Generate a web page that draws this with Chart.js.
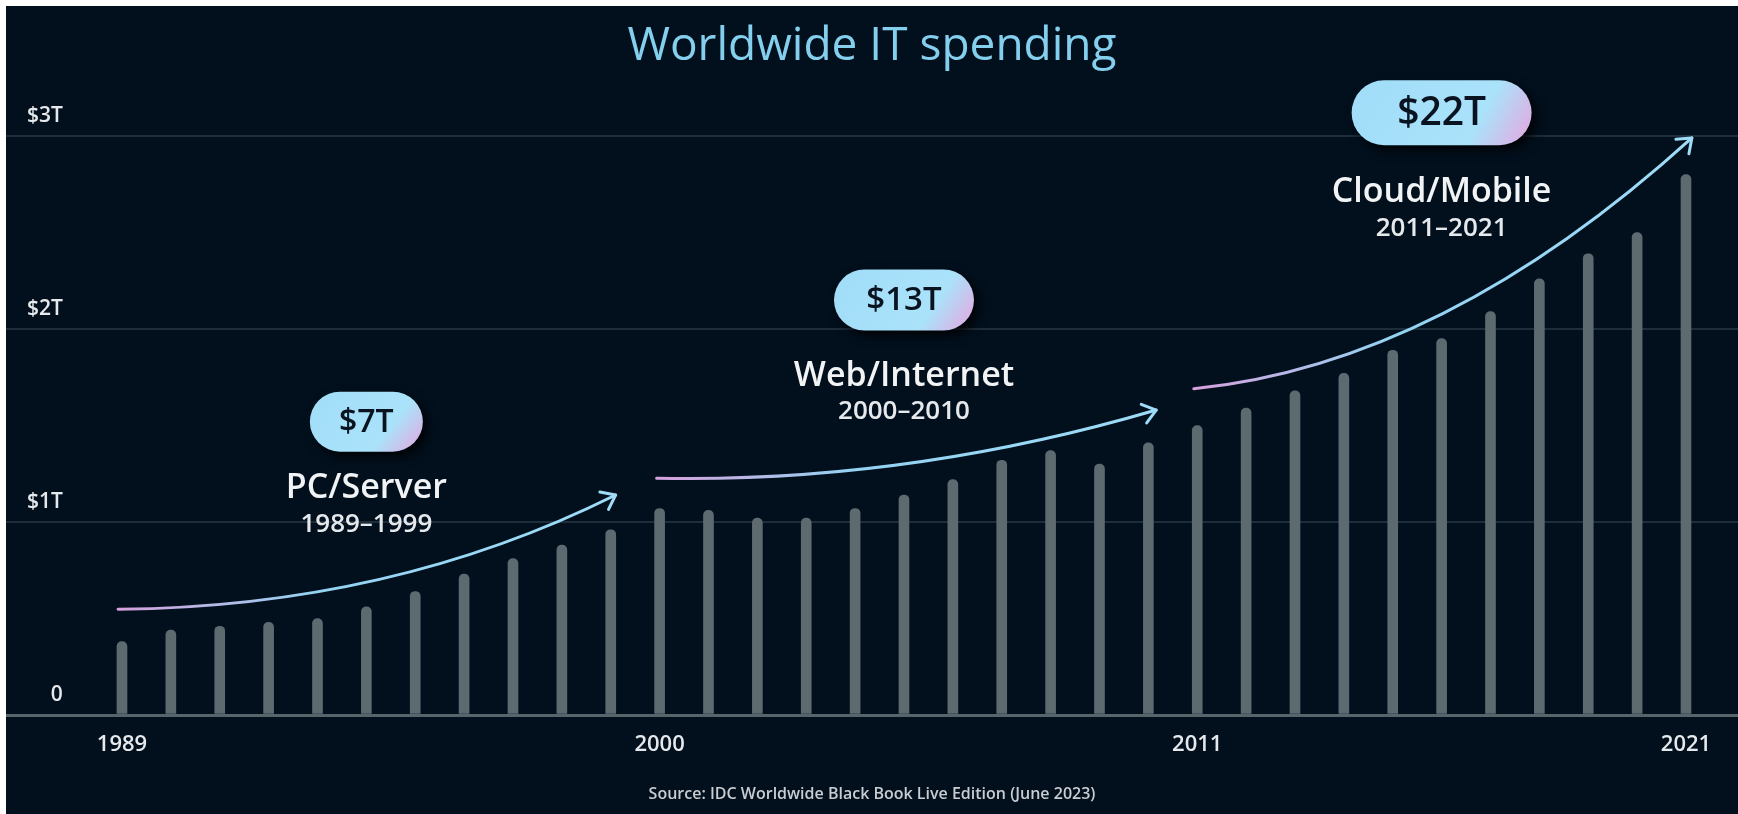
<!DOCTYPE html>
<html>
<head>
<meta charset="utf-8">
<title>Worldwide IT spending</title>
<script src="https://cdn.jsdelivr.net/npm/chart.js@4.4.1/dist/chart.umd.min.js"></script>
<style>
  html, body { margin: 0; background: #ffffff; }
  #wrap {
    position: absolute;
    left: 6px;
    top: 6px;
    width: 1732px;
    height: 808px;
    background: #02101e;
  }
</style>
</head>
<body>
<div id="wrap"><canvas id="it-spending" width="1732" height="808"></canvas></div>
<script>
// Worldwide IT spending per year, trillions of US dollars
const years = [
  1989, 1990, 1991, 1992, 1993, 1994, 1995, 1996, 1997, 1998, 1999,
  2000, 2001, 2002, 2003, 2004, 2005, 2006, 2007, 2008, 2009, 2010,
  2011, 2012, 2013, 2014, 2015, 2016, 2017, 2018, 2019, 2020, 2021,
];
const spending = [
  0.38, 0.44, 0.46, 0.48, 0.50, 0.56, 0.64, 0.73, 0.81, 0.88, 0.96,
  1.07, 1.06, 1.02, 1.02, 1.07, 1.14, 1.22, 1.32, 1.37, 1.30, 1.41,
  1.50, 1.59, 1.68, 1.77, 1.89, 1.95, 2.09, 2.26, 2.39, 2.50, 2.80,
];
const yTicks = [0, 1, 2, 3];
const xTickYears = [1989, 2000, 2011, 2021];

// Computing eras
const eraNames = ["PC/Server", "Web/Internet", "Cloud/Mobile"];
const eraStart = [1989, 2000, 2011];
const eraEnd = [1999, 2010, 2021];

// Where each era's badge, captions and trend arrow sit (year, $T)
const eraLayout = [
  {
    pill: [1994, 1.52], pillSize: [113, 60], pillFont: 32,
    nameY: 1.176, spanY: 0.985,
    arrow: [[1988.92, 0.548], [1994.5, 0.56], [1999.1, 1.14]],
  },
  {
    pill: [2005, 2.15], pillSize: [140, 61], pillFont: 33,
    nameY: 1.756, spanY: 1.57,
    arrow: [[1999.94, 1.227], [2005.05, 1.2], [2010.16, 1.58]],
  },
  {
    pill: [2016, 3.12], pillSize: [180, 65], pillFont: 39,
    nameY: 2.71, spanY: 2.52,
    arrow: [[2010.93, 1.69], [2016.03, 1.82], [2021.12, 2.99]],
  },
];

function eraTotal(i) {
  let sum = 0;
  years.forEach((y, j) => {
    if (y >= eraStart[i] && y <= eraEnd[i]) sum += spending[j];
  });
  return "$" + Math.round(sum) + "T";
}

function drawArrow(ctx, p0, c, p1) {
  const grad = ctx.createLinearGradient(p0.x, 0, p1.x, 0);
  grad.addColorStop(0, "#d6a1dd");
  grad.addColorStop(0.4, "#93d3f2");
  grad.addColorStop(1, "#9edcf8");
  ctx.strokeStyle = grad;
  ctx.lineWidth = 3;
  ctx.lineCap = "round";
  ctx.lineJoin = "round";
  ctx.beginPath();
  ctx.moveTo(p0.x, p0.y);
  ctx.quadraticCurveTo(c.x, c.y, p1.x, p1.y);
  ctx.stroke();

  // open arrow head along the end tangent
  const ang = Math.atan2(p1.y - c.y, p1.x - c.x);
  const len = 16;
  ctx.beginPath();
  ctx.moveTo(p1.x - len * Math.cos(ang - 0.65), p1.y - len * Math.sin(ang - 0.65));
  ctx.lineTo(p1.x, p1.y);
  ctx.lineTo(p1.x - len * Math.cos(ang + 0.65), p1.y - len * Math.sin(ang + 0.65));
  ctx.stroke();
}

function drawPill(ctx, x, y, w, h, text, size) {
  ctx.save();
  ctx.shadowColor = "rgba(0, 0, 0, 0.85)";
  ctx.shadowBlur = 12;
  ctx.shadowOffsetX = 5;
  ctx.shadowOffsetY = 5;
  // light blue body, pink only towards the lower right corner
  const g = ctx.createLinearGradient(x - w / 2, y - h, x + w / 2, y + h / 2);
  g.addColorStop(0, "#9fdcf8");
  g.addColorStop(0.72, "#aae2fa");
  g.addColorStop(1, "#e8a5df");
  ctx.fillStyle = g;
  ctx.beginPath();
  ctx.roundRect(x - w / 2, y - h / 2, w, h, h / 2);
  ctx.fill();
  ctx.restore();

  ctx.fillStyle = "#0a1320";
  ctx.font = `600 ${size}px "Open Sans"`;
  ctx.textAlign = "center";
  ctx.textBaseline = "middle";
  ctx.fillText(text, x, y + 1);
}

const eraPlugin = {
  id: "eras",
  afterDatasetsDraw(chart) {
    const { ctx } = chart;
    const xs = chart.scales.x;
    const ys = chart.scales.y;
    const pt = ([a, b]) => ({ x: xs.getPixelForValue(a), y: ys.getPixelForValue(b) });

    ctx.save();
    eraLayout.forEach((era, i) => {
      const [p0, c, p1] = era.arrow.map(pt);
      drawArrow(ctx, p0, c, p1);

      const cx = xs.getPixelForValue(era.pill[0]);
      drawPill(ctx, cx, ys.getPixelForValue(era.pill[1]),
        era.pillSize[0], era.pillSize[1], eraTotal(i), era.pillFont);

      ctx.textAlign = "center";
      ctx.textBaseline = "middle";
      ctx.fillStyle = "#f1f3f5";
      ctx.font = '600 34px "Open Sans"';
      ctx.fillText(eraNames[i], cx, ys.getPixelForValue(era.nameY));
      ctx.fillStyle = "#e6e9ec";
      ctx.font = '600 26px "Open Sans"';
      ctx.fillText(eraStart[i] + "\u2013" + eraEnd[i], cx, ys.getPixelForValue(era.spanY));
    });
    ctx.restore();
  },
};

const ctx = document.getElementById("it-spending");

new Chart(ctx, {
  type: "bar",
  data: {
    labels: years,
    datasets: [
      {
        data: spending,
        backgroundColor: "#5d6a70",
        barThickness: 10,
        borderRadius: { topLeft: 5, topRight: 5, bottomLeft: 0, bottomRight: 0 },
        borderSkipped: "start",
      },
    ],
  },
  options: {
    responsive: false,
    animation: false,
    layout: { padding: 0 },
    scales: {
      x: {
        type: "linear",
        offset: false,
        min: 1986.627,
        max: 2022.064,
        afterBuildTicks: (axis) => {
          axis.ticks = xTickYears.map((v) => ({ value: v }));
        },
        afterFit: (axis) => {
          axis.height = 43.2;
        },
        grid: { display: false, drawTicks: false },
        border: { display: false },
        ticks: {
          color: "#e6e9ec",
          font: { family: "Open Sans", size: 22, weight: "600" },
          padding: 16.8,
          maxRotation: 0,
          autoSkip: false,
          callback: (v) => String(v),
        },
      },
      y: {
        min: 0,
        max: 3.2,
        afterBuildTicks: (axis) => {
          axis.ticks = yTicks.map((v) => ({ value: v }));
        },
        afterFit: (axis) => {
          axis.width = 0;
        },
        border: { display: false },
        grid: {
          drawTicks: false,
          color: (c) => (c.tick && c.tick.value === 0 ? "#56646c" : "#1d2d3a"),
          lineWidth: (c) => (c.tick && c.tick.value === 0 ? 3 : 2),
        },
        ticks: {
          mirror: true,
          crossAlign: "far",
          padding: 21,
          labelOffset: -20,
          color: "#e6e9ec",
          font: { family: "Open Sans", size: 21, weight: "600" },
          callback: (v) => (v === 0 ? "0" : "$" + v + "T"),
        },
      },
    },
    plugins: {
      legend: { display: false },
      tooltip: { enabled: false },
      title: {
        display: true,
        text: "Worldwide IT spending",
        color: "#84cfee",
        font: { family: "Open Sans", size: 46, weight: "400" },
        padding: { top: 13.2, bottom: 23 },
      },
      subtitle: {
        display: true,
        position: "bottom",
        text: "Source: IDC Worldwide Black Book Live Edition (June 2023)",
        color: "#c9cdd2",
        font: { family: "Open Sans", size: 16, weight: "600" },
        padding: { top: 26.6, bottom: 10 },
      },
    },
  },
  plugins: [eraPlugin],
});
</script>
</body>
</html>
